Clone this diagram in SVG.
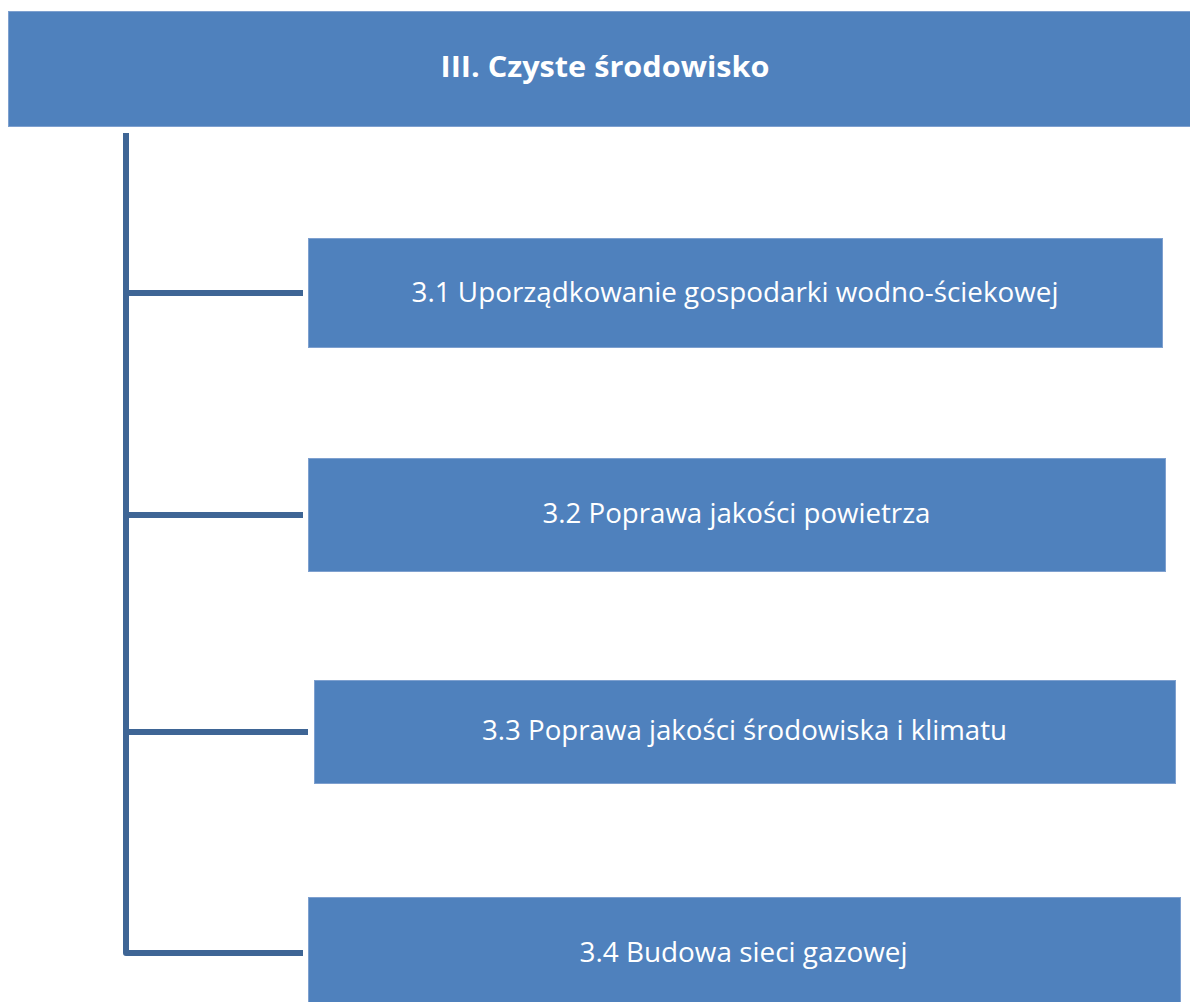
<svg xmlns="http://www.w3.org/2000/svg" width="1190" height="1002" viewBox="0 0 1190 1002">
<style>
.box{fill:#4F81BD;stroke:#7EA0CF;stroke-width:1}
.t{font-family:"Open Sans","Liberation Sans",sans-serif;fill:#FFFFFF;font-size:26.5px;text-anchor:middle}
.h{font-weight:bold;font-size:29px}
.ln{stroke:#3E6595;stroke-width:6;fill:none;stroke-linejoin:round}
</style>
<rect width="1190" height="1002" fill="#FFFFFF"/>
<g id="connectors">
<path class="ln" d="M126,133 V953 H303"/>
<path class="ln" d="M126,293 H303"/>
<path class="ln" d="M126,515 H303"/>
<path class="ln" d="M126,732 H308"/>
</g>
<g id="header">
<rect class="box" x="8.5" y="11.5" width="1195" height="115"/>
<text class="t h" x="605" y="77" textLength="329" lengthAdjust="spacingAndGlyphs">III. Czyste środowisko</text>
</g>
<g id="node31">
<rect class="box" x="308.5" y="238.5" width="854" height="109"/>
<text class="t" x="735" y="302" textLength="647" lengthAdjust="spacingAndGlyphs">3.1 Uporządkowanie gospodarki wodno-ściekowej</text>
</g>
<g id="node32">
<rect class="box" x="308.5" y="458.5" width="857" height="113"/>
<text class="t" x="736.5" y="523" textLength="388" lengthAdjust="spacingAndGlyphs">3.2 Poprawa jakości powietrza</text>
</g>
<g id="node33">
<rect class="box" x="314.5" y="680.5" width="861" height="103"/>
<text class="t" x="744.5" y="740" textLength="525" lengthAdjust="spacingAndGlyphs">3.3 Poprawa jakości środowiska i klimatu</text>
</g>
<g id="node34">
<rect class="box" x="308.5" y="897.5" width="872" height="110"/>
<text class="t" x="743.5" y="962" textLength="328" lengthAdjust="spacingAndGlyphs">3.4 Budowa sieci gazowej</text>
</g>
</svg>
